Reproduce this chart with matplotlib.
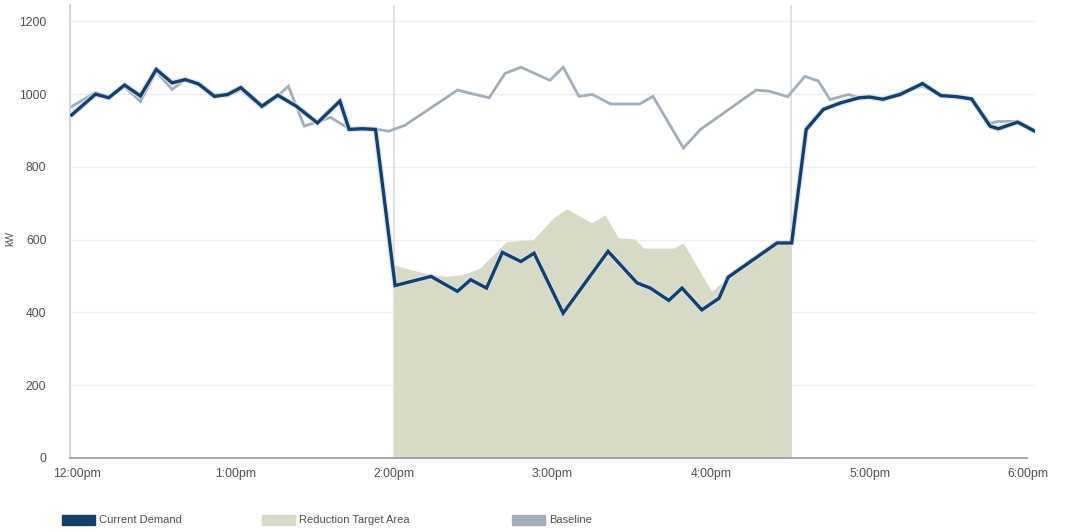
import matplotlib
matplotlib.use("Agg")
import matplotlib.pyplot as plt
from matplotlib.patches import Rectangle

# minutes after 12:00pm, values in kW
demand_t = [-2, 7, 12, 18, 24, 30, 36, 41, 46, 52, 57, 62, 70, 76, 83, 91,
            99.5, 103, 108, 113, 120.4, 134, 144, 149, 155, 161, 168, 173,
            184, 201, 212, 217, 224, 229, 236.5, 243, 246.5, 265, 270.5,
            276, 282.5, 289, 296, 300, 305, 311.5, 320, 327, 333, 338.6,
            345.6, 348.7, 356, 362.6]
demand_kw = [943, 1000, 990, 1025, 995, 1068, 1031, 1040, 1028, 994, 999,
             1018, 967, 997, 967, 921, 981, 903, 905, 903, 474, 499, 458,
             490, 467, 565, 540, 563, 398, 568, 481, 467, 433, 467, 407,
             439, 497, 591, 591, 903, 958, 976, 990, 992, 986, 999, 1029,
             996, 993, 987, 912, 905, 923, 898]

baseline_t = [-2, 7, 12, 18, 24, 30, 36, 41, 46, 52, 57, 62, 70, 76, 80,
              86, 96, 103, 108, 114, 118, 124, 144, 156, 162, 168, 179,
              184, 190, 195, 202, 213, 218, 229.5, 236, 257, 262, 269,
              275.5, 280.6, 285, 292, 296, 300, 305, 311.5, 320, 327, 333,
              338.6, 345.6, 348.7, 356, 362.6]
baseline_kw = [966, 1005, 992, 1020, 980, 1062, 1013, 1040, 1030, 998, 995,
               1012, 962, 995, 1022, 912, 936, 905, 905, 903, 898, 914, 1011,
               990, 1057, 1074, 1038, 1074, 994, 999, 973, 973, 994, 852,
               903, 1011, 1008, 993, 1049, 1036, 985, 999, 990, 995, 986,
               1003, 1022, 998, 993, 985, 920, 925, 925, 900]

target_t = [120, 124, 134, 140, 146, 152.5, 162.6, 172.7, 180.3, 185.4,
            194.8, 199.8, 204.9, 211.2, 214.4, 225.7, 229.5, 240.2, 246.5,
            265, 270.3]
target_kw = [531, 522, 504, 499, 504, 522, 595, 600, 660, 685, 646, 669,
             605, 602, 577, 577, 591, 458, 497, 591, 591]

tick_minutes = [0, 60, 120, 180, 240, 300, 360]
tick_labels = ["12:00pm", "1:00pm", "2:00pm", "3:00pm", "4:00pm", "5:00pm",
               "6:00pm"]
y_ticks = [0, 200, 400, 600, 800, 1000, 1200]
event_lines = [120, 270.3]

legend_names = ["Current Demand", "Reduction Target Area", "Baseline"]

col_demand = "#163f69"
col_target = "#d7dac4"
col_base = "#a2aebb"
txt = "#505050"

plt.rcParams["font.family"] = ["Liberation Sans", "DejaVu Sans"]

W, H = 1069, 532
fig = plt.figure(figsize=(W / 100, H / 100), dpi=100)
ax = fig.add_axes([70 / W, 1 - 458 / H, (1035 - 70) / W, (458 - 5) / H])

x0, x1 = -2.65, 362.6
ax.set_xlim(x0, x1)
ax.set_ylim(0, 1245)

for y in y_ticks[1:]:
    ax.axhline(y, color="#f0f0f0", lw=1, zorder=0)
for x in event_lines:
    ax.axvline(x, color="#dcdcdc", lw=1.2, zorder=0)

ax.fill_between(target_t, 0, target_kw, color=col_target, lw=0, zorder=1)
ax.plot(baseline_t, baseline_kw, color=col_base, lw=2.0, zorder=2,
        solid_joinstyle="miter")
ax.plot(demand_t, demand_kw, color="#cfe4f5", lw=4.2, zorder=3, alpha=0.8)
ax.plot(demand_t, demand_kw, color=col_demand, lw=2.4, zorder=4,
        solid_joinstyle="miter")

for s in ["top", "right"]:
    ax.spines[s].set_visible(False)
ax.spines["left"].set_color("#cccccc")
ax.spines["left"].set_linewidth(1.2)
ax.spines["bottom"].set_color("#9a9a9a")
ax.spines["bottom"].set_linewidth(1.2)
ax.spines["bottom"].set_bounds(x0, 359.6)

ax.set_xticks(tick_minutes)
ax.set_xticklabels(tick_labels)
ax.set_yticks(y_ticks)
ax.tick_params(axis="both", length=0, labelsize=8.8, labelcolor=txt)
ax.tick_params(axis="y", pad=17)
ax.tick_params(axis="x", pad=7)
ax.set_ylabel("kW", fontsize=7.5, color=txt)
ax.yaxis.set_label_coords(-0.057, 0.485)

# legend row along the bottom
items = [(62, col_demand), (262, col_target), (512, col_base)]
for (px, c), name in zip(items, legend_names):
    fig.patches.append(Rectangle((px / W, 1 - 525 / H), 33 / W, 10 / H,
                                 transform=fig.transFigure, color=c))
    fig.text((px + 37) / W, 1 - 520 / H, name, fontsize=8, color=txt,
             va="center", ha="left")

fig.savefig("out.png", dpi=100, facecolor="white")
